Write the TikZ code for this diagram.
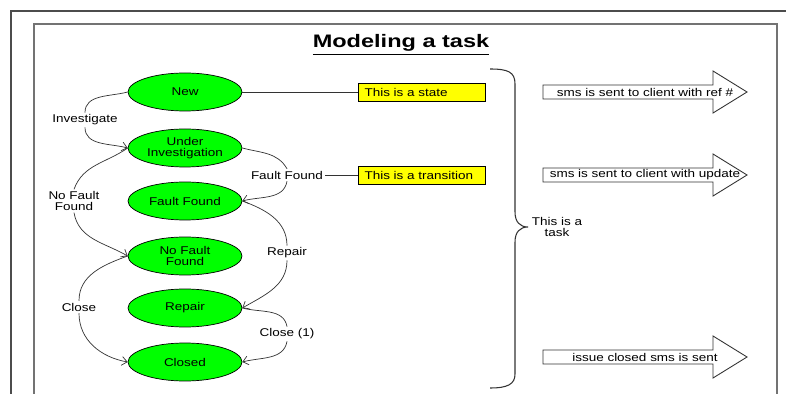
\documentclass[tikz,border=0pt]{standalone}
\usepackage{fontspec}
\setmainfont[FakeStretch=1.2]{Liberation Sans}
\newfontfamily\titlefont[FakeStretch=1.3]{Liberation Sans}
\usetikzlibrary{arrows.meta,shapes.geometric}

\definecolor{stategreen}{HTML}{00FF00}
\definecolor{noteyellow}{HTML}{FFFF00}

\begin{document}
\begin{tikzpicture}[
    x=0.02cm, y=-0.02cm,
    font=\fontsize{6.4}{6.2}\selectfont,
    state/.style={ellipse, draw, fill=stategreen, minimum width=2.28cm, minimum height=0.76cm, inner sep=0pt, align=center},
    translabel/.style={fill=white, inner sep=1pt, align=center},
    trans/.style={draw=black!80, line width=0.4pt},
    arrow/.style={trans, -{Straight Barb[length=3pt,width=5pt]}},
    note/.style={rectangle, draw, fill=noteyellow, minimum height=0.36cm, text width=2.3cm, inner xsep=0.12cm, inner ysep=0pt, align=left},
    blockarrow/.style={draw=black!80, fill=white, line width=0.5pt},
    msg/.style={inner sep=0pt}
]
    \useasboundingbox (0,0) rectangle (786,394);

    % frames
    \draw[draw=black!70, line width=1pt] (11,394) -- (11,11) -- (786,11);
    \draw[draw=black!55, line width=0.8pt] (34,394) -- (34,24) -- (777,24) -- (777,394);

    \node (title) at (401,45) {\titlefont\fontsize{10.3}{12}\selectfont\bfseries\underline{Modeling a task}};

    % states
    \node[state] (new) at (185,92) {New};
    \node[state] (uinv) at (185,148) {Under\\Investigation};
    \node[state] (ff) at (185,201) {Fault Found};
    \node[state] (nff) at (185,256) {No Fault\\Found};
    \node[state] (repair) at (185,308) {Repair};
    \node[state] (closed) at (185,362) {Closed};

    % transitions
    \node[translabel] (lInv) at (85,120) {Investigate};
    \node[translabel] (lFF) at (287,175) {Fault Found};
    \node[translabel] (lNFF) at (74,201) {No Fault\\Found};
    \node[translabel] (lRep) at (287,253) {Repair};
    \node[translabel] (lClose) at (79,307) {Close};
    \node[translabel] (lClose1) at (287,334) {Close (1)};

    \draw[trans] (new.west) to[out=195, in=90] (lInv.north);
    \draw[arrow] (lInv.south) to[out=-90, in=165] (uinv.west);
    \draw[trans] (uinv.west) to[out=215, in=70] (lNFF.north);
    \draw[arrow] (lNFF.south) to[out=-80, in=150] (nff.west);
    \draw[trans] (uinv.east) to[out=-15, in=120] (lFF.north);
    \draw[arrow] (lFF.south) to[out=-100, in=15] (ff.east);
    \draw[trans] (ff.east) to[out=-20, in=90] (lRep.north);
    \draw[arrow] (lRep.south) to[out=-90, in=30] (repair.east);
    \draw[trans] (nff.west) to[out=200, in=90] (lClose.north);
    \draw[arrow] (lClose.south) to[out=-90, in=170] (closed.west);
    \draw[trans] (repair.east) to[out=-15, in=100] (lClose1.north);
    \draw[arrow] (lClose1.south) to[out=-100, in=15] (closed.east);

    % notes
    \node[note] (statenote) at (422,92) {This is a state};
    \node[note] (transnote) at (422,175) {This is a transition};
    \draw[trans] (new.east) -- (statenote.west);
    \draw[trans] (lFF.east) -- (transnote.west);

    % task brace
    \draw[trans, line width=0.6pt] (490,69) .. controls (508,69) and (515,72) .. (515,84) -- (515,212)
        .. controls (515,222) and (520,227) .. (528,227) .. controls (520,227) and (515,232) .. (515,242)
        -- (515,374) .. controls (515,384) and (508,388) .. (490,388);
    \node[align=center, inner sep=0pt] (task) at (557,227) {This is a\\task};

    % sms arrows
    \foreach \yy/\txt/\nm in {92/{sms is sent to client with ref \#}/ref, 175/{sms is sent to client with update}/upd, 357/{issue closed sms is sent}/cls} {
        \draw[blockarrow] (543,\yy-7) -- (713,\yy-7) -- (713,\yy-21) -- (747,\yy) -- (713,\yy+21) -- (713,\yy+7) -- (543,\yy+7) -- cycle;
        \node[msg] (sms-\nm) at (645,\yy) {\txt};
    }
\end{tikzpicture}
\end{document}
